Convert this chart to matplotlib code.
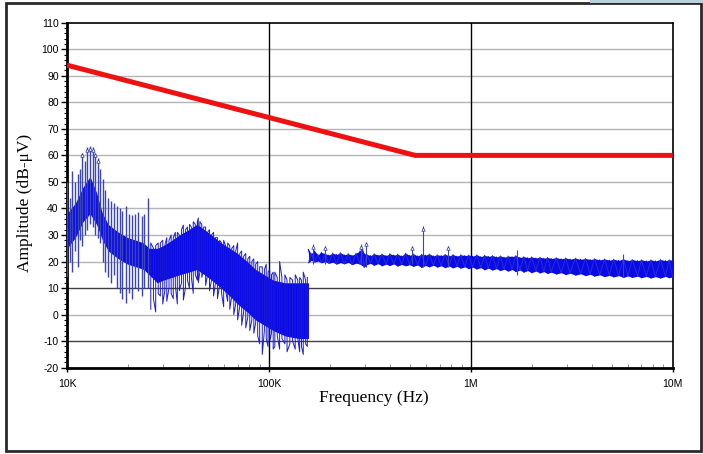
import matplotlib.pyplot as plt
from matplotlib.patches import Rectangle
from matplotlib.ticker import MultipleLocator, LogLocator, NullFormatter

plt.rcParams['axes.unicode_minus'] = False

# limit line (Hz, dB-uV)
limit_f = [10e3, 530e3, 10e6]
limit_db = [94, 60, 60]

# measured spectrum, dense core below 157 kHz (kHz, lo, hi)
low_f = [10, 11, 12, 13, 14, 15, 16, 18, 20, 22, 24, 25.5, 28, 30, 33, 36, 40, 44, 48,
         52, 58, 64, 70, 78, 86, 95, 105, 120, 140, 157]
low_lo = [25, 29, 35, 38, 34, 28, 24, 21, 19, 18, 17, 15, 12, 13, 14, 15, 16, 17, 15,
          13, 10, 7, 4, 1, -2, -4, -6, -8, -9, -9]
low_hi = [38, 42, 48, 52, 46, 38, 34, 31, 29, 28, 27, 25, 25, 26, 28, 30, 32, 34, 32,
          30, 27, 25, 23, 20, 17, 15, 13, 12, 12, 12]

# core above 157 kHz
high_f = [157, 162, 168, 175, 182, 190, 198, 207, 216, 226, 236, 247, 258, 270, 283, 290,
          296, 305, 318, 332, 347, 363, 380, 397, 415, 434, 454, 475, 497, 520, 545, 570,
          596, 623, 652, 682, 713, 746, 780, 816, 853, 892, 933, 976, 1020, 1070, 1120,
          1170, 1220, 1280, 1340, 1400, 1460, 1530, 1600, 1670, 1750, 1830, 1910, 2000,
          2100, 2200, 2300, 2400, 2500, 2650, 2800, 2950, 3100, 3300, 3500, 3700, 3900,
          4100, 4350, 4600, 4850, 5100, 5400, 5700, 6000, 6300, 6700, 7000, 7400, 7800,
          8200, 8700, 9200, 9600, 10000]
high_lo = [19.5, 20.5, 19.8, 20.2, 19.5, 20, 19.3, 19.8, 19, 19.6, 19.1, 19.7, 18.8, 19.4,
           19, 18.5, 17.8, 18.8, 19.3, 18.6, 19.2, 18.4, 19, 18.5, 19.1, 18.3, 18.9, 18.4,
           18.8, 18.2, 18.7, 17.8, 18.5, 18, 18.6, 17.9, 18.4, 17.7, 18.3, 17.6, 18.2, 17.5,
           18, 17.3, 17.9, 17.2, 17.7, 16.9, 17.5, 16.8, 17.3, 16.6, 17.1, 16.4, 17, 16.2,
           16.8, 16, 16.6, 15.8, 16.4, 15.7, 16.2, 15.5, 16, 15.3, 15.8, 15.1, 15.6, 14.9,
           15.4, 14.7, 15.2, 14.5, 15, 14.3, 14.8, 14.2, 14.7, 14, 14.6, 14, 14.5, 13.9,
           14.4, 13.8, 14.3, 13.8, 14.4, 13.9, 14.2]
high_hi = [24.5, 23, 24, 22.6, 23.4, 23, 22.4, 23.2, 22.6, 23.4, 22.5, 23, 22.3, 23.2, 24,
           25, 23, 22.8, 22.2, 23, 22.4, 22.9, 22.2, 23, 22.4, 22.8, 22.1, 23.2, 22.3, 22.9,
           22.1, 22.8, 22.4, 22.9, 22.1, 22.6, 22.2, 22.8, 22.1, 22.7, 22, 22.6, 22.2, 22.5,
           22, 22.6, 21.8, 22.4, 21.9, 22.3, 21.7, 22.2, 21.6, 22.1, 21.8, 22.3, 21.5, 21.9,
           21.4, 21.8, 21.3, 21.7, 21.2, 21.6, 21.1, 21.5, 21, 21.4, 20.9, 21.3, 20.8, 21.2,
           20.7, 21.1, 20.6, 21, 20.5, 20.9, 20.4, 21, 20.3, 20.8, 20.3, 20.7, 20.2, 20.7,
           20.2, 20.8, 20.3, 20.7, 20.5]

# individual spikes, 10 kHz - 25 kHz harmonics (kHz, lo, hi)
harm_f = [10.0, 10.3, 10.6, 10.95, 11.3, 11.6, 11.9, 12.25, 12.6, 13.0, 13.4, 13.8, 14.2,
          14.5, 15.0, 15.5, 16.0, 16.5, 17.0, 17.6, 18.2, 18.8, 19.5, 20.2, 21.0, 21.8,
          22.6, 23.4, 24.2, 25.3]
harm_lo = [14, 20, 16, 24, 18, 28, 26, 30, 32, 34, 33, 30, 29, 27, 20, 16, 14, 12, 15,
           10, 8, 6, 4.5, 8, 6, 10, 9, 7, 10, 10]
harm_hi = [50, 44, 54, 50, 53, 55, 61, 58, 63, 63.5, 63, 61, 59, 55, 51, 47, 44, 43, 42,
           41, 40, 39, 41, 38, 37.5, 38, 38.5, 37, 38, 44]

# spikes 25 kHz - 157 kHz
mid_f = [26.0, 26.8, 27.5, 28.3, 29.0, 29.8, 30.5, 31.2, 32.0, 32.8, 33.6, 34.4, 35.2,
         36.0, 36.9, 37.7, 38.6, 39.5, 40.4, 41.3, 42.2, 43.2, 44.2, 44.7, 45.5, 46.5,
         47.5, 48.6, 49.7, 50.8, 52, 53.2, 54.4, 55.6, 57, 58.3, 59.7, 61, 62.5, 64, 65.5,
         67, 68.5, 70, 71.7, 73.3, 75, 76.8, 78.6, 80.4, 82.3, 84.2, 86, 88, 90, 92.7, 95,
         97, 99, 101, 103, 105, 107, 110, 113, 116, 120, 123, 127, 131, 135, 139, 142,
         145, 148, 152, 155]
mid_lo = [2, 6, 1, 8, 7, 4, 9, 5, 10, 8, 6, 11, 4, 9, 12, 5.5, 10, 13, 10, 14, 8, 15, 13,
          12, 16, 14, 17, 11, 15, 9, 13, 7, 12, 6, 11, 8, 3, 9, 5, 2, 7, 0, 4, -2, 3, -4,
          1, -5, -1, -6, -2, -7, -3, -8, -11, -15, -6, -9, -12, -10, -7, -13, -12, -8, -13,
          -9, -11, -14, -11, -10, -13, -9, -14, -12, -15, -11, -12]
mid_hi = [27, 25, 26, 27, 27, 28, 26, 29, 28, 30, 29, 31, 31, 30, 32, 33.7, 32, 33, 34,
          33, 35, 34, 35, 36.4, 35, 34, 33, 33, 31, 32, 30, 31, 29, 29, 28, 27, 28, 26, 27,
          26, 25, 26, 24, 27, 23, 24, 22, 23, 21, 22, 20, 21, 19, 20, 18, 18, 17, 19, 16,
          17, 15, 16, 16, 14, 20, 14, 15, 13, 14, 13, 15, 13, 14, 13, 16, 13, 14]

# spikes above 157 kHz
top_f = [165, 190, 285, 302, 510, 578, 775, 1690, 5700]
top_lo = [19, 19, 19, 18, 19, 18, 18, 14.8, 14]
top_hi = [26.6, 26, 26.5, 27.5, 26, 33.4, 26, 24.3, 23]

# peaks flagged with markers
mark_f = [11.9, 12.6, 13.0, 13.4, 13.8, 14.2, 165, 190, 285, 302, 510, 578, 775]
mark_db = [60, 62, 62.5, 62, 60, 58, 25.6, 25, 25.5, 26.5, 25, 32.4, 25]

fig = plt.figure(figsize=(7.03, 4.54), dpi=100)
ax = fig.add_axes([67 / 703, 1 - 367.7 / 454, 605.7 / 703, 345 / 454])

blue = '#0a0ae6'
spike = '#3a44bc'
ax.fill_between([f * 1e3 for f in low_f], low_lo, low_hi, color=blue, lw=0, zorder=3)
ax.fill_between([f * 1e3 for f in high_f], high_lo, high_hi, color=blue, lw=0, zorder=3)
# trace zig-zags between the read upper and lower values
zig = [h if i % 2 == 0 else l for i, (l, h) in enumerate(zip(high_lo, high_hi))]
ax.plot([f * 1e3 for f in high_f], zig, color=blue, lw=0.8, zorder=3)
zag = [l if i % 2 == 0 else h for i, (l, h) in enumerate(zip(high_lo, high_hi))]
ax.plot([f * 1e3 for f in high_f], zag, color='#2a34c8', lw=0.6, zorder=3)

mid_x, mid_y = [], []
for i, (f, l, h) in enumerate(zip(mid_f, mid_lo, mid_hi)):
    mid_x += [f * 1e3, f * 1e3]
    mid_y += [l, h] if i % 2 == 0 else [h, l]
ax.plot(mid_x, mid_y, color='#1a1ad8', lw=0.7, zorder=3)

ax.vlines([f * 1e3 for f in harm_f], harm_lo, harm_hi, colors=spike, lw=1.0, zorder=3)
ax.vlines([f * 1e3 for f in top_f], top_lo, top_hi, colors=spike, lw=0.8, zorder=3)
ax.plot([f * 1e3 for f in mark_f], mark_db, ls='none', marker='^', ms=2.5,
        mfc='white', mec='#2530a0', mew=0.5, zorder=4)

ax.plot(limit_f, limit_db, color='#ee1111', lw=3.6, zorder=5, solid_capstyle='butt')

ax.set_xscale('log')
ax.set_xlim(1e4, 1e7)
ax.set_ylim(-20, 110)
ax.set_xticks([1e4, 1e5, 1e6, 1e7])
ax.set_xticklabels(['10K', '100K', '1M', '10M'])
ax.xaxis.set_minor_locator(LogLocator(base=10, subs=range(2, 10)))
ax.xaxis.set_minor_formatter(NullFormatter())
ax.set_yticks(range(-20, 111, 10))
ax.yaxis.set_minor_locator(MultipleLocator(2))

# grid
for y in range(-10, 110, 10):
    c = '#404040' if y in (10, -10) else '#b4b4b4'
    ax.axhline(y, color=c, lw=1, zorder=1)
for x in (1e5, 1e6):
    ax.axvline(x, color='black', lw=1, zorder=1)

for side in ('top', 'right'):
    ax.spines[side].set_linewidth(1.2)
for side in ('left', 'bottom'):
    ax.spines[side].set_linewidth(2)

ax.tick_params(axis='y', which='major', direction='out', length=4, width=1,
               labelsize=7.5, pad=2)
ax.tick_params(axis='y', which='minor', direction='out', length=2.5, width=0.8)
ax.tick_params(axis='x', which='major', direction='out', length=3, width=1,
               labelsize=7.5, pad=5)
ax.tick_params(axis='x', which='minor', direction='in', length=3, width=0.6, color='#808080')
for lab in ax.get_xticklabels() + ax.get_yticklabels():
    lab.set_family('Liberation Sans')

ax.set_xlabel('Frequency (Hz)', family='Liberation Serif', fontsize=12.5)
ax.set_ylabel('Amplitude (dB-μV)', family='Liberation Serif', fontsize=12.5)
ax.xaxis.label.set_va('center')
ax.yaxis.label.set_va('center')
ax.xaxis.set_label_coords(0.506, -0.088)
ax.yaxis.set_label_coords(-0.069, 0.479)

# outer frame of the screenshot
fig.patches.append(Rectangle((6 / 703, 1 - 451 / 454), 695 / 703, 448 / 454,
                             transform=fig.transFigure, fill=False,
                             edgecolor='#2a2a2a', lw=2))
fig.patches.append(Rectangle((590 / 703, 1 - 3 / 454), 113 / 703, 3 / 454,
                             transform=fig.transFigure, color='#b8d0dc', lw=0))

fig.savefig('out.png', dpi=100)
